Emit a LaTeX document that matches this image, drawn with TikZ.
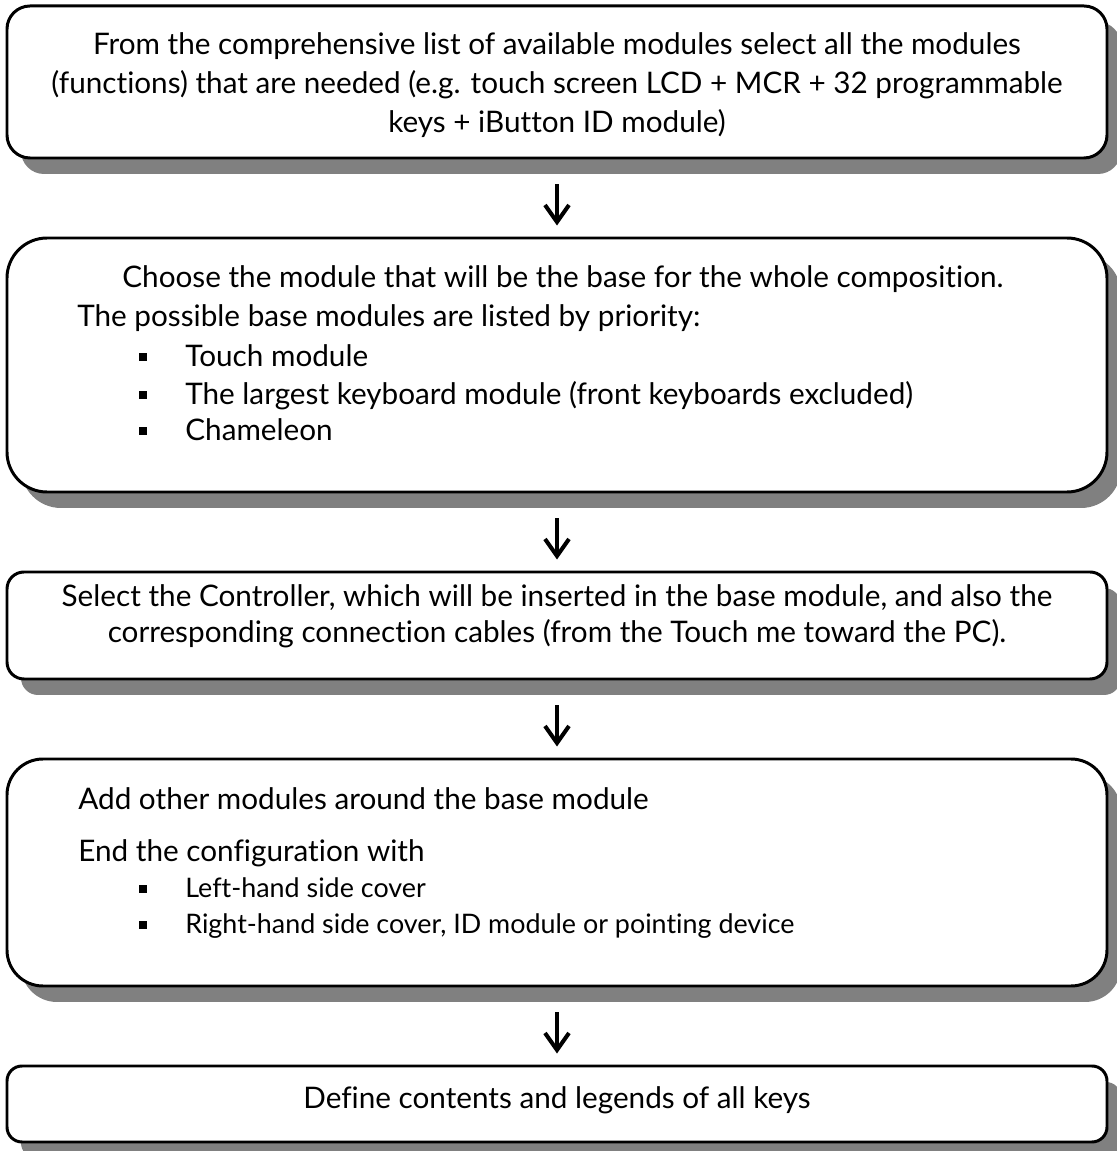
\documentclass[tikz,border=0pt]{standalone}
\usepackage{fontspec}
\setmainfont{Lato}[Ligatures=NoCommon]
\usetikzlibrary{arrows.meta,shadows}

\begin{document}
\begin{tikzpicture}[
		caja/.style={draw, line width=1.7pt, fill=white, minimum width=22cm, inner sep=0pt,
			drop shadow={shadow xshift=0.28cm, shadow yshift=-0.32cm, fill=black!50, opacity=1}},
		linea/.style={anchor=base, inner sep=0pt, font=\fontsize{16.9}{20}\selectfont},
		izq/.style={linea, anchor=base west},
		chica/.style={izq, font=\fontsize{15.3}{18}\selectfont},
		punto/.style={fill, minimum size=0.16cm, inner sep=0pt},
		flecha/.style={-{Straight Barb[length=3.4mm, width=4.8mm]}, line width=2.3pt,
			shorten <=0.5cm, shorten >=0.22cm}
	]
		\useasboundingbox (0,0) rectangle (22.34,23.02);
		
		% cajas
		\node[caja, minimum height=3.04cm, rounded corners=0.46cm] (b1) at (11.14,21.38) {};
		\node[caja, minimum height=5.08cm, rounded corners=0.8cm] (b2) at (11.14,15.72) {};
		\node[caja, minimum height=2.14cm, rounded corners=0.34cm] (b3) at (11.14,10.51) {};
		\node[caja, minimum height=4.54cm, rounded corners=0.72cm] (b4) at (11.14,5.57) {};
		\node[caja, minimum height=1.52cm, rounded corners=0.3cm] (b5) at (11.14,0.94) {};
		
		% flechas
		\draw[flecha] (b1.south) -- (b2.north);
		\draw[flecha] (b2.south) -- (b3.north);
		\draw[flecha] (b3.south) -- (b4.north);
		\draw[flecha] (b4.south) -- (b5.north);
		
		% caja 1
		\node[linea] (l11) at (11.14,21.92) {From the comprehensive list of available modules select all the modules};
		\node[linea] (l12) at (11.14,21.14) {(functions) that are needed (e.g. touch screen LCD + MCR + 32 programmable};
		\node[linea] (l13) at (11.14,20.36) {keys + iButton ID module)};
		
		% caja 2
		\node[izq] (l21) at (2.44,17.26) {Choose the module that will be the base for the whole composition.};
		\node[izq] (l22) at (1.54,16.48) {The possible base modules are listed by priority:};
		\node[punto] (p21) at (2.86,15.88) {};
		\node[izq] (l23) at (3.70,15.68) {Touch module};
		\node[punto] (p22) at (2.86,15.12) {};
		\node[izq] (l24) at (3.70,14.92) {The largest keyboard module (front keyboards excluded)};
		\node[punto] (p23) at (2.86,14.40) {};
		\node[izq] (l25) at (3.70,14.20) {Chameleon};
		
		% caja 3
		\node[linea] (l31) at (11.14,10.88) {Select the Controller, which will be inserted in the base module, and also the};
		\node[linea] (l32) at (11.14,10.16) {corresponding connection cables (from the Touch me toward the PC).};
		
		% caja 4
		\node[izq] (l41) at (1.56,6.82) {Add other modules around the base module};
		\node[izq] (l42) at (1.56,5.78) {End the configuration with};
		\node[punto] (p41) at (2.86,5.24) {};
		\node[chica] (l43) at (3.70,5.06) {Left-hand side cover};
		\node[punto] (p42) at (2.86,4.52) {};
		\node[chica] (l44) at (3.70,4.34) {Right-hand side cover, ID module or pointing device};
		
		% caja 5
		\node[linea] (l51) at (11.14,0.86) {Define contents and legends of all keys};
	\end{tikzpicture}
\end{document}
